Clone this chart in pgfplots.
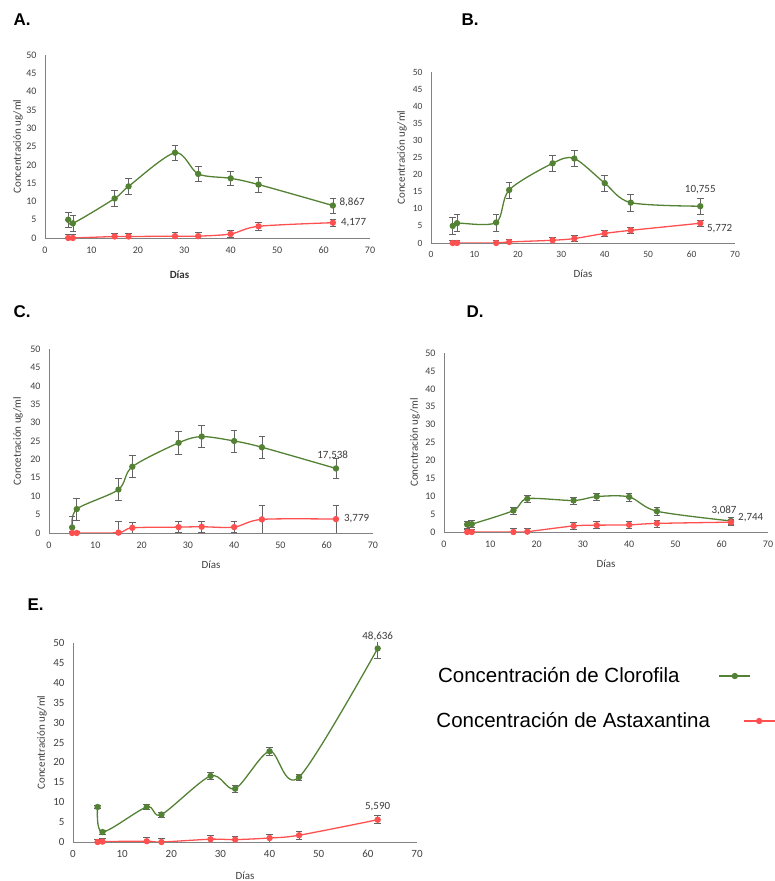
\documentclass[border=0pt]{standalone}
\usepackage{pgfplots}
\pgfplotsset{compat=1.18}
\usepackage{fontspec}
\setmainfont{Carlito}
\newfontfamily\arial{Liberation Sans}
\definecolor{cgreen}{RGB}{84,130,53}
\definecolor{cred}{RGB}{255,80,80}
\definecolor{tickgray}{RGB}{64,64,64}
\definecolor{axgray}{RGB}{130,130,130}
\definecolor{errgray}{RGB}{100,100,100}
\definecolor{lblgray}{RGB}{60,60,60}
\tikzset{dlabel/.style={font=\fontsize{11}{13}\selectfont, text=lblgray, inner sep=1pt}}
\pgfplotsset{
  panel/.style={
    scale only axis, xmin=0, xmax=70, ymin=0, ymax=50,
    xtick={0,10,...,70}, ytick={0,5,...,50},
    axis x line*=bottom, axis y line*=left,
    axis line style={axgray, line width=0.7pt, -},
    major tick length=0pt,
    /pgf/number format/assume math mode=true,
    ticklabel style={font=\fontsize{10}{11}\selectfont, text=tickgray},
    xticklabel style={yshift=-5pt},
    yticklabel style={xshift=-5pt},
    label style={font=\fontsize{11}{13}\selectfont, text=tickgray},
    clip mode=individual,
    legend image code/.code={\draw[mark repeat=2,mark phase=2,##1] plot coordinates {(0pt,0pt)(15.5pt,0pt)(31pt,0pt)};},
  },
  errs/.style={error bars/y dir=both, error bars/y explicit,
    error bars/error bar style={errgray, line width=0.6pt, solid},
    error bars/error mark options={errgray, mark size=3.3pt, line width=0.6pt, rotate=90}},
  sgreen/.style={color=cgreen, line width=1.3pt, mark=*, mark size=2.5pt, smooth, tension=0.5, errs},
  sred/.style={color=cred, line width=1.3pt, mark=*, mark size=2.5pt, smooth, tension=0.5, errs},
}
\begin{document}
\begin{tikzpicture}
\useasboundingbox (0pt,0pt) rectangle (775pt,881pt);
% titles
\node[anchor=west, font=\arial\bfseries\fontsize{17}{19}\selectfont] at (10pt,861pt) {A.};
\node[anchor=west, font=\arial\bfseries\fontsize{17}{19}\selectfont] at (458pt,861pt) {B.};
\node[anchor=west, font=\arial\bfseries\fontsize{17}{19}\selectfont] at (10pt,569pt) {C.};
\node[anchor=west, font=\arial\bfseries\fontsize{17}{19}\selectfont] at (463pt,569pt) {D.};
\node[anchor=west, font=\arial\bfseries\fontsize{17}{19}\selectfont] at (24pt,276pt) {E.};

% ---------- A ----------
\begin{axis}[panel, at={(45pt,643pt)}, anchor=south west, width=325pt, height=183pt,
  xlabel={\bfseries Días}, xlabel style={at={(axis description cs:0.5,0)}, anchor=center, yshift=-37pt, xshift=-28pt, text=black!80},
  ylabel={Concentración ug/ml}, ylabel style={at={(axis description cs:0,0.5)}, anchor=center, yshift=27pt}]
\addplot[sgreen] table[x=x, y=y, y error=e] {
x y e
5 5.0 2.1
6 4.0 2.1
15 10.8 2.1
18 14.1 2.1
28 23.3 2.1
33 17.5 2.1
40 16.3 2.0
46 14.6 2.0
62 8.867 2.1
};
\addplot[sred] table[x=x, y=y, y error=e] {
x y e
5 0 1
6 0 1
15 0.4 1
18 0.4 1
28 0.5 1
33 0.5 1
40 1.1 1
46 3.2 1
62 4.177 1
};
\node[dlabel, anchor=west] at (axis cs:63.2,9.6) {8,867};
\node[dlabel, anchor=west] at (axis cs:63.5,4.3) {4,177};
\end{axis}

% ---------- B ----------
\begin{axis}[panel, at={(431pt,638pt)}, anchor=south west, width=304pt, height=171pt,
  ticklabel style={font=\fontsize{9.5}{11}\selectfont},
  xlabel={Días}, xlabel style={at={(axis description cs:0.5,0)}, anchor=center, yshift=-31pt},
  ylabel={Concentración ug/ml}, ylabel style={at={(axis description cs:0,0.5)}, anchor=center, yshift=29pt}]
\addplot[sgreen] table[x=x, y=y, y error=e] {
x y e
5 5.0 2.5
6 5.8 2.5
15 6.0 2.5
18 15.5 2.3
28 23.3 2.4
33 24.7 2.4
40 17.5 2.4
46 11.8 2.5
62 10.755 2.4
};
\addplot[sred] table[x=x, y=y, y error=e] {
x y e
5 0 0.9
6 0 0.9
15 0 0.9
18 0.3 0.9
28 0.8 0.9
33 1.3 0.9
40 2.8 0.9
46 3.7 0.9
62 5.772 0.8
};
\node[dlabel, anchor=south] at (axis cs:62,14.0) {10,755};
\node[dlabel, anchor=west] at (axis cs:63.3,4.3) {5,772};
\end{axis}

% ---------- C ----------
\begin{axis}[panel, at={(49pt,348pt)}, anchor=south west, width=324pt, height=184pt,
  xlabel={Días}, xlabel style={at={(axis description cs:0.5,0)}, anchor=center, yshift=-32pt},
  ylabel={Concetración ug/ml}, ylabel style={at={(axis description cs:0,0.5)}, anchor=center, yshift=31pt}]
\addplot[sgreen] table[x=x, y=y, y error=e] {
x y e
5 1.5 3
6 6.5 3
15 11.8 3
18 18.0 3
28 24.5 3
33 26.2 3
40 25.0 3
46 23.3 3
62 17.538 2.8
};
\addplot[sred] table[x=x, y=y, y error=e] {
x y e
5 0 0.5
6 0 0.5
15 0.1 3
18 1.4 1.5
28 1.6 1.5
33 1.7 1.4
40 1.6 1.5
46 3.7 3.7
62 3.779 3.8
};
\node[dlabel, anchor=south] at (axis cs:61.3,19.6) {17,538};
\node[dlabel, anchor=west] at (axis cs:63.5,4.0) {3,779};
\end{axis}

% ---------- D ----------
\begin{axis}[panel, at={(444pt,349pt)}, anchor=south west, width=324pt, height=179pt,
  xlabel={Días}, xlabel style={at={(axis description cs:0.5,0)}, anchor=center, yshift=-32pt},
  ylabel={Concntración ug/ml}, ylabel style={at={(axis description cs:0,0.5)}, anchor=center, yshift=29pt},
  legend style={at={(axis description cs:-0.03,-1.056)}, anchor=west, draw=none, fill=none,
    font=\arial\fontsize{20.5}{24}\selectfont, text=black, inner sep=0pt, column sep=31pt},
  legend plot pos=right]
\addplot[sgreen, forget plot] table[x=x, y=y, y error=e] {
x y e
5 2.1 1
6 2.2 1
15 6.0 1
18 9.3 1
28 8.8 1
33 9.9 1
40 9.8 1.1
46 5.8 1
62 3.087 0.9
};
\addplot[sred] table[x=x, y=y, y error=e] {
x y e
5 0 0.7
6 0 0.7
15 0 0.9
18 0.1 0.9
28 1.7 1
33 1.9 1
40 2.0 1
46 2.4 1
62 2.744 0.9
};
\addlegendentry{Concentración de Astaxantina}
\node[dlabel, anchor=south] at (axis cs:60.5,4.3) {3,087};
\node[dlabel, anchor=west] at (axis cs:63.3,4.1) {2,744};
\end{axis}

% ---------- E ----------
\begin{axis}[panel, at={(73pt,39pt)}, anchor=south west, width=344pt, height=199pt,
  ticklabel style={font=\fontsize{11}{12}\selectfont},
  xlabel={Días}, xlabel style={at={(axis description cs:0.5,0)}, anchor=center, yshift=-34pt},
  ylabel={Concentración ug/ml}, ylabel style={at={(axis description cs:0,0.5)}, anchor=center, yshift=31pt},
  legend style={at={(axis description cs:1.055,0.834)}, anchor=west, draw=none, fill=none,
    font=\arial\fontsize{20.5}{24}\selectfont, text=black, inner sep=0pt, column sep=37pt},
  legend plot pos=right]
\addplot[sgreen] table[x=x, y=y, y error=e] {
x y e
5 8.8 0.3
6 2.5 0.5
15 8.8 0.6
18 6.9 0.6
28 16.6 0.9
33 13.4 0.8
40 22.8 1.0
46 16.3 0.8
62 48.636 2.5
};
\addlegendentry{Concentración de Clorofila}
\addplot[sred, forget plot] table[x=x, y=y, y error=e] {
x y e
5 0 0.8
6 0.1 0.8
15 0.2 1
18 0 1
28 0.7 0.9
33 0.6 0.9
40 1.0 1
46 1.7 1
62 5.590 1
};
\node[dlabel, anchor=south] at (axis cs:62,50.3) {48,636};
\node[dlabel, anchor=south] at (axis cs:62,7.6) {5,590};
\end{axis}
\end{tikzpicture}
\end{document}
